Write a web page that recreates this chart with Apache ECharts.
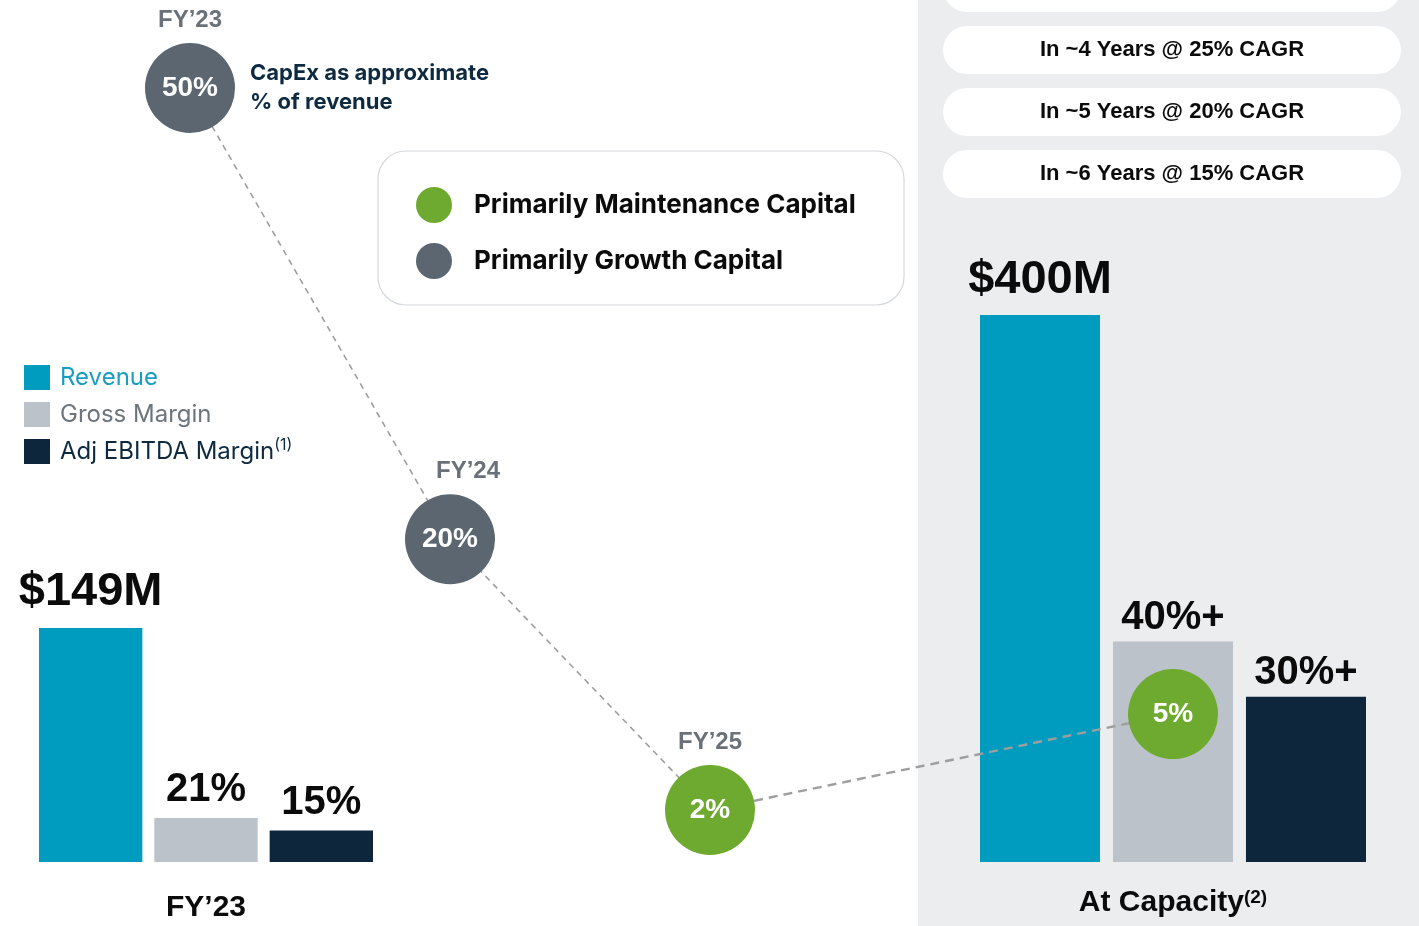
<!DOCTYPE html>
<html>
<head>
<meta charset="utf-8">
<title>Revenue, margins and CapEx intensity</title>
<script src="https://cdn.jsdelivr.net/npm/echarts@6/dist/echarts.min.js"></script>
<style>
  html, body { margin: 0; padding: 0; background: #ffffff; }
  #chart { width: 1419px; height: 926px; }
</style>
</head>
<body>
<div id="chart"></div>
<script>
// ---- data ----
const barGroups = ['FY’23', 'At Capacity'];
const revenueM = [149, 400];
const grossMarginPct = [21, 40];
const ebitdaMarginPct = [15, 30];
const revenueLabels = ['$149M', '$400M'];
const grossMarginLabels = ['21%', '40%+'];
const ebitdaMarginLabels = ['15%', '30%+'];

const capexYears = ['FY’23', 'FY’24', 'FY’25'];
const capexPct = [50, 20, 2];
const capexKind = ['growth', 'growth', 'maintenance'];
const capexAtCapacityPct = 5;

const cagrScenarios = ['', 'In ~4 Years @ 25% CAGR', 'In ~5 Years @ 20% CAGR', 'In ~6 Years @ 15% CAGR'];

// ---- styling ----
const C = {
  revenue: '#009CC0',
  gross: '#BBC2C9',
  ebitda: '#0E263B',
  growth: '#5B6670',
  maint: '#6DAA2F',
  panel: '#ECEDEF',
  dash: '#9E9E9E',
  ink: '#0B0B0B',
  navy: '#0E2A40'
};
const NUM_FONT = '"Liberation Sans", Arial, Helvetica, sans-serif';
const UI_FONT = 'Inter, "Noto Sans", sans-serif';

// each bar panel has its own scale
const panels = [
  { grid: { left: 39, top: 300, width: 334, height: 562 }, revenueMax: 358, marginMax: 268, barGap: '11.6%', revDist: 13, marginDist: 8 },
  { grid: { left: 980, top: 300, width: 386, height: 562 }, revenueMax: 411, marginMax: 102, barGap: '10.8%', revDist: 11, marginDist: 4 }
];
const capexGrid = { left: 60, top: 88, width: 780, height: 752 };
const capexLeftMax = 50;
const capexRightMax = 19;
const yearLabelShift = { 1: [18, 0] };

const chart = echarts.init(document.getElementById('chart'), null, { renderer: 'canvas', width: 1419, height: 926 });

const labelBase = { show: true, position: 'top', color: C.ink, fontWeight: 'bold', fontFamily: NUM_FONT };

const xAxis = [
  {
    type: 'category', gridIndex: 0, data: [barGroups[0]],
    axisLine: { show: false }, axisTick: { show: false },
    axisLabel: { margin: 31, fontSize: 30, fontWeight: 'bold', color: C.ink, fontFamily: NUM_FONT }
  },
  {
    type: 'category', gridIndex: 1, data: [barGroups[1]],
    axisLine: { show: false }, axisTick: { show: false },
    axisLabel: {
      margin: 26,
      formatter: v => '{t|' + v + '}{s|(2)}',
      rich: {
        t: { fontSize: 30, fontWeight: 'bold', color: C.ink, fontFamily: NUM_FONT },
        s: { fontSize: 19, fontWeight: 'bold', color: C.ink, fontFamily: NUM_FONT, verticalAlign: 'top' }
      }
    }
  },
  { type: 'category', gridIndex: 2, data: capexYears, show: false }
];

const yAxis = [
  { type: 'value', gridIndex: 0, min: 0, max: panels[0].revenueMax, show: false },
  { type: 'value', gridIndex: 0, min: 0, max: panels[0].marginMax, show: false },
  { type: 'value', gridIndex: 1, min: 0, max: panels[1].revenueMax, show: false },
  { type: 'value', gridIndex: 1, min: 0, max: panels[1].marginMax, show: false },
  { type: 'value', gridIndex: 1, min: 0, max: capexRightMax, show: false },
  { type: 'value', gridIndex: 2, min: 0, max: capexLeftMax, show: false }
];

const series = [];
panels.forEach((p, i) => {
  const revAxis = i === 0 ? 0 : 2;
  const marAxis = i === 0 ? 1 : 3;
  const common = { type: 'bar', xAxisIndex: i, barGap: p.barGap, barCategoryGap: '0%', z: 2, emphasis: { disabled: true } };
  series.push(Object.assign({}, common, {
    name: 'Revenue', yAxisIndex: revAxis, data: [revenueM[i]],
    itemStyle: { color: C.revenue },
    label: Object.assign({}, labelBase, { distance: p.revDist, fontSize: 47, formatter: () => revenueLabels[i] })
  }));
  series.push(Object.assign({}, common, {
    name: 'Gross Margin', yAxisIndex: marAxis, data: [grossMarginPct[i]],
    itemStyle: { color: C.gross },
    label: Object.assign({}, labelBase, { distance: p.marginDist, fontSize: 40, formatter: () => grossMarginLabels[i] })
  }));
  series.push(Object.assign({}, common, {
    name: 'Adj EBITDA Margin', yAxisIndex: marAxis, data: [ebitdaMarginPct[i]],
    itemStyle: { color: C.ebitda },
    label: Object.assign({}, labelBase, { distance: p.marginDist, fontSize: 40, formatter: () => ebitdaMarginLabels[i] })
  }));
});

// dashed CapEx path through FY'23 - FY'25
series.push({
  type: 'line', xAxisIndex: 2, yAxisIndex: 5, data: capexPct,
  symbol: 'none', clip: false, silent: true, z: 1,
  lineStyle: { color: C.dash, width: 1.6, type: [6, 5] }
});

const circleLabel = {
  show: true, position: 'inside', color: '#ffffff', fontSize: 28, fontWeight: 'bold', fontFamily: NUM_FONT,
  formatter: p => p.value[1] + '%'
};
const growthPts = [], maintPts = [];
capexPct.forEach((v, i) => (capexKind[i] === 'growth' ? growthPts : maintPts).push([i, v]));

series.push({
  type: 'scatter', name: 'Primarily Growth Capital', xAxisIndex: 2, yAxisIndex: 5,
  data: growthPts, symbolSize: 90, clip: false, z: 5, emphasis: { disabled: true },
  itemStyle: { color: C.growth, opacity: 1 }, label: circleLabel
});
const maintLeftIndex = series.length;
series.push({
  type: 'scatter', name: 'Primarily Maintenance Capital', xAxisIndex: 2, yAxisIndex: 5,
  data: maintPts, symbolSize: 90, clip: false, z: 5, emphasis: { disabled: true },
  itemStyle: { color: C.maint, opacity: 1 }, label: circleLabel
});
const maintRightIndex = series.length;
series.push({
  type: 'scatter', name: 'Primarily Maintenance Capital', xAxisIndex: 1, yAxisIndex: 4,
  data: [[0, capexAtCapacityPct]], symbolSize: 90, clip: false, z: 5, emphasis: { disabled: true },
  itemStyle: { color: C.maint, opacity: 1 }, label: circleLabel
});
// fiscal-year captions above the circles
series.push({
  type: 'scatter', xAxisIndex: 2, yAxisIndex: 5, silent: true, clip: false, z: 5,
  data: capexPct.map((v, i) => yearLabelShift[i] ? { value: [i, v], label: { offset: yearLabelShift[i] } } : { value: [i, v] }),
  symbolSize: 90, itemStyle: { color: 'rgba(0,0,0,0)' },
  label: {
    show: true, position: 'top', distance: 11, color: '#454D57', fontSize: 24, fontWeight: 'bold', fontFamily: NUM_FONT,
    formatter: p => capexYears[p.value[0]]
  }
});

chart.setOption({
  animation: false,
  backgroundColor: '#ffffff',
  title: {
    text: 'CapEx as approximate\n% of revenue', left: 250, top: 59, padding: 0,
    textStyle: { fontFamily: UI_FONT, fontWeight: 'bold', fontSize: 22, lineHeight: 29, color: C.navy }
  },
  legend: [
    {
      data: [
        { name: 'Revenue', textStyle: { color: '#1A9DC2' } },
        { name: 'Gross Margin', textStyle: { color: '#6C757D' } },
        { name: 'Adj EBITDA Margin', textStyle: { color: C.navy } }
      ],
      left: 24, top: 363, padding: 0, orient: 'vertical', icon: 'rect',
      itemWidth: 26, itemHeight: 25, itemGap: 8,
      formatter: n => n === 'Adj EBITDA Margin' ? '{m|' + n + '}{s|(1)}' : n,
      textStyle: {
        fontFamily: UI_FONT, fontSize: 24, lineHeight: 29, padding: [0, 0, 0, 5],
        rich: {
          m: { fontFamily: UI_FONT, fontSize: 24, lineHeight: 29 },
          s: { fontFamily: UI_FONT, fontSize: 16, verticalAlign: 'top', lineHeight: 29 }
        }
      }
    },
    {
      data: ['Primarily Maintenance Capital', 'Primarily Growth Capital'],
      left: 416, top: 187, padding: 0, orient: 'vertical', icon: 'circle',
      itemWidth: 36, itemHeight: 36, itemGap: 20,
      textStyle: { fontFamily: UI_FONT, fontSize: 26, lineHeight: 36, fontWeight: 'bold', color: C.ink, padding: [0, 0, 0, 17] }
    }
  ],
  grid: [panels[0].grid, panels[1].grid, capexGrid],
  xAxis: xAxis,
  yAxis: yAxis,
  series: series
});

// background panel, scenario pills, legend frame and the link into the "At Capacity" panel
const fromPt = chart.convertToPixel({ seriesIndex: maintLeftIndex }, [2, capexPct[2]]);
const toPt = chart.convertToPixel({ seriesIndex: maintRightIndex }, [0, capexAtCapacityPct]);

const graphics = [
  { type: 'rect', silent: true, z: -5, shape: { x: 918, y: 0, width: 501, height: 926 }, style: { fill: C.panel } },
  { type: 'rect', silent: true, z: 0, shape: { x: 378, y: 151, width: 526, height: 154, r: 28 }, style: { fill: '#ffffff', stroke: '#D5D8DC', lineWidth: 1.2 } }
];
cagrScenarios.forEach((t, i) => {
  const top = -36 + 62 * i;
  graphics.push({ type: 'rect', silent: true, z: 0, shape: { x: 943, y: top, width: 458, height: 48, r: 24 }, style: { fill: '#ffffff' } });
  if (t) {
    graphics.push({
      type: 'text', silent: true, z: 1,
      style: {
        text: t, x: 1172, y: top + 24, fill: C.ink,
        textAlign: 'center', textVerticalAlign: 'middle', align: 'center', verticalAlign: 'middle',
        font: 'bold 22px "Liberation Sans", Arial, sans-serif'
      }
    });
  }
});
graphics.push({
  type: 'line', silent: true, z: 3,
  shape: { x1: fromPt[0], y1: fromPt[1], x2: toPt[0], y2: toPt[1] },
  style: { stroke: C.dash, lineWidth: 2.4, lineDash: [9, 6] }
});

chart.setOption({ graphic: graphics });
</script>
</body>
</html>
